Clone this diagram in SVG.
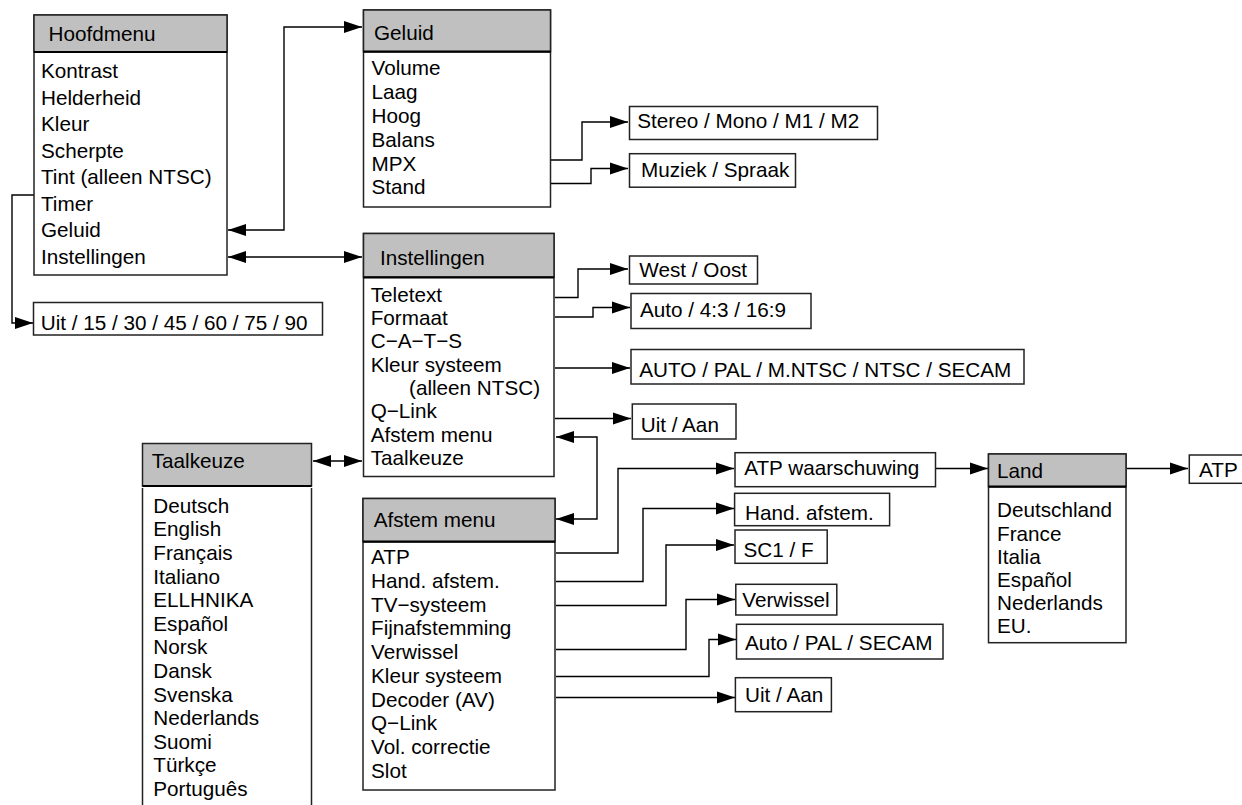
<svg xmlns="http://www.w3.org/2000/svg" width="1242" height="805" viewBox="0 0 1242 805">
<style>
text{font-family:"Liberation Sans",Arial,sans-serif;font-size:20.7px;fill:#000}
.box{fill:#fff;stroke:#222;stroke-width:1.5}
.hdr{fill:#c0c0c0;stroke:#222;stroke-width:1.5}
.sep{stroke:#000;stroke-width:2.2}
.side{stroke:#222;stroke-width:1.5;fill:none}
.c{fill:none;stroke:#000;stroke-width:1.4}
.a{marker-end:url(#ah)}
.b{marker-start:url(#ah);marker-end:url(#ah)}
</style>
<defs>
<marker id="ah" markerUnits="userSpaceOnUse" markerWidth="19" markerHeight="13" refX="18" refY="6.5" orient="auto-start-reverse">
<path d="M0,0.5 L18,6.5 L0,12.5 z" fill="#000"/>
</marker>
</defs>
<rect width="1242" height="805" fill="#fff"/>

<g id="connectors">
<path class="c a" d="M34,195 H12 V323 H33"/>
<path class="c b" d="M228,230 H284 V27 H362"/>
<path class="c b" d="M228,257 H362"/>
<path class="c a" d="M551,160 H582 V122 H628"/>
<path class="c a" d="M551,183.5 H591 V168.5 H628"/>
<path class="c a" d="M555,297.5 H578 V269 H628"/>
<path class="c a" d="M555,317 H593 V307.5 H630"/>
<path class="c a" d="M555,368 H630"/>
<path class="c a" d="M555,418.5 H631"/>
<path class="c b" d="M556,437 H597 V519 H556"/>
<path class="c b" d="M313,461 H362"/>
<path class="c a" d="M556,553 H618 V468.5 H734"/>
<path class="c a" d="M556,581.5 H643 V508.5 H734"/>
<path class="c a" d="M556,605.5 H666 V545 H734"/>
<path class="c a" d="M556,649.5 H686 V599.5 H735"/>
<path class="c a" d="M556,676.5 H709 V639.5 H736"/>
<path class="c a" d="M556,697.5 H735"/>
<path class="c a" d="M936,468.5 H988"/>
<path class="c a" d="M1127,468.5 H1188"/>
</g>

<g id="hoofdmenu">
<rect class="box" x="34" y="15" width="193" height="260"/>
<rect class="hdr" x="34" y="15" width="193" height="37"/>
<line class="sep" x1="34" y1="52" x2="227" y2="52"/>
<text x="48.5" y="40.7">Hoofdmenu</text>
<text x="41" y="78.3">Kontrast</text>
<text x="41" y="104.8">Helderheid</text>
<text x="41" y="131.3">Kleur</text>
<text x="41" y="157.8">Scherpte</text>
<text x="41" y="184.3">Tint (alleen NTSC)</text>
<text x="41" y="210.8">Timer</text>
<text x="41" y="237.3">Geluid</text>
<text x="41" y="263.8">Instellingen</text>
</g>

<g id="timer-opts">
<rect class="box" x="33.5" y="302.5" width="289" height="32.5"/>
<text x="40.7" y="330">Uit / 15 / 30 / 45 / 60 / 75 / 90</text>
</g>

<g id="geluid">
<rect class="box" x="363.5" y="10" width="187" height="197"/>
<rect class="hdr" x="363.5" y="10" width="187" height="41.7"/>
<line class="sep" x1="363.5" y1="51.7" x2="550.5" y2="51.7"/>
<text x="374" y="40">Geluid</text>
<text x="371.5" y="75">Volume</text>
<text x="371.5" y="98.9">Laag</text>
<text x="371.5" y="122.7">Hoog</text>
<text x="371.5" y="146.6">Balans</text>
<text x="371.5" y="170.5">MPX</text>
<text x="371.5" y="194.3">Stand</text>
</g>

<g id="stereo">
<rect class="box" x="629.5" y="106.5" width="248" height="33"/>
<text x="637.3" y="128.3">Stereo / Mono / M1 / M2</text>
</g>
<g id="muziek">
<rect class="box" x="629.5" y="153.7" width="166" height="33.5"/>
<text x="641" y="176.7">Muziek / Spraak</text>
</g>

<g id="instellingen">
<rect class="box" x="363.5" y="233.5" width="190.5" height="243"/>
<rect class="hdr" x="363.5" y="233.5" width="190.5" height="43.8"/>
<line class="sep" x1="363.5" y1="277.3" x2="554" y2="277.3"/>
<text x="380" y="265">Instellingen</text>
<text x="370.7" y="301.7">Teletext</text>
<text x="370.7" y="325">Formaat</text>
<text x="370.7" y="348.3">C−A−T−S</text>
<text x="370.7" y="371.7">Kleur systeem</text>
<text x="409" y="395">(alleen NTSC)</text>
<text x="370.7" y="418.3">Q−Link</text>
<text x="370.7" y="441.7">Afstem menu</text>
<text x="370.7" y="465">Taalkeuze</text>
</g>

<g id="westoost">
<rect class="box" x="629.5" y="256" width="128" height="28"/>
<text x="639.3" y="276.7">West / Oost</text>
</g>
<g id="formaat-opts">
<rect class="box" x="631" y="293.5" width="180" height="35"/>
<text x="640" y="316.7">Auto / 4:3 / 16:9</text>
</g>
<g id="kleur-opts">
<rect class="box" x="631" y="349.5" width="393" height="34.5"/>
<text x="639.3" y="376.7">AUTO / PAL / M.NTSC / NTSC / SECAM</text>
</g>
<g id="qlink-opts">
<rect class="box" x="632.3" y="404" width="103.7" height="35"/>
<text x="640.7" y="432.3">Uit / Aan</text>
</g>

<g id="taalkeuze">
<rect class="hdr" x="142.5" y="443.5" width="169" height="42.5"/>
<line class="sep" x1="142.5" y1="486" x2="311.5" y2="486"/>
<path class="side" d="M142.5,488 V805 M311.5,488 V805"/>
<text x="151.7" y="468">Taalkeuze</text>
<text x="153.3" y="512.7">Deutsch</text>
<text x="153.3" y="536.3">English</text>
<text x="153.3" y="559.9">Français</text>
<text x="153.3" y="583.5">Italiano</text>
<text x="153.3" y="607.1">ELLHNIKA</text>
<text x="153.3" y="630.7">Español</text>
<text x="153.3" y="654.3">Norsk</text>
<text x="153.3" y="677.9">Dansk</text>
<text x="153.3" y="701.5">Svenska</text>
<text x="153.3" y="725.1">Nederlands</text>
<text x="153.3" y="748.7">Suomi</text>
<text x="153.3" y="772.3">Türkçe</text>
<text x="153.3" y="795.9">Português</text>
</g>

<g id="afstemmenu">
<rect class="box" x="363" y="498.5" width="192" height="291.5"/>
<rect class="hdr" x="363" y="498.5" width="192" height="43.2"/>
<line class="sep" x1="363" y1="541.7" x2="555" y2="541.7"/>
<text x="373.7" y="527.3">Afstem menu</text>
<text x="371" y="564.3">ATP</text>
<text x="371" y="588">Hand. afstem.</text>
<text x="371" y="611.7">TV−systeem</text>
<text x="371" y="635.4">Fijnafstemming</text>
<text x="371" y="659.1">Verwissel</text>
<text x="371" y="682.8">Kleur systeem</text>
<text x="371" y="706.5">Decoder (AV)</text>
<text x="371" y="730.2">Q−Link</text>
<text x="371" y="753.9">Vol. correctie</text>
<text x="371" y="777.6">Slot</text>
</g>

<g id="atpwaarschuwing">
<rect class="box" x="735" y="452.7" width="200.5" height="34"/>
<text x="744.2" y="475">ATP waarschuwing</text>
</g>
<g id="handafstem">
<rect class="box" x="734.6" y="493.3" width="155" height="32.4"/>
<text x="745" y="520">Hand. afstem.</text>
</g>
<g id="sc1f">
<rect class="box" x="735" y="530" width="92.2" height="33.3"/>
<text x="743.4" y="556.7">SC1 / F</text>
</g>
<g id="verwissel">
<rect class="box" x="735.8" y="584.3" width="101" height="30.7"/>
<text x="742.3" y="606.7">Verwissel</text>
</g>
<g id="autopalsecam">
<rect class="box" x="736.5" y="624.3" width="206.5" height="34.7"/>
<text x="745" y="650">Auto / PAL / SECAM</text>
</g>
<g id="decoder-opts">
<rect class="box" x="735.4" y="677.7" width="96" height="34"/>
<text x="745" y="702.3">Uit / Aan</text>
</g>

<g id="land">
<rect class="box" x="988.5" y="454" width="137.5" height="188.7"/>
<rect class="hdr" x="988.5" y="454" width="137.5" height="32.7"/>
<line class="sep" x1="988.5" y1="486.7" x2="1126" y2="486.7"/>
<text x="997" y="478.3">Land</text>
<text x="997" y="517.3">Deutschland</text>
<text x="997" y="540.5">France</text>
<text x="997" y="563.7">Italia</text>
<text x="997" y="586.9">Español</text>
<text x="997" y="610.1">Nederlands</text>
<text x="997" y="633.3">EU.</text>
</g>

<g id="atp">
<rect class="box" x="1189.3" y="455" width="60" height="28.3"/>
<text x="1199" y="476.7">ATP</text>
</g>
</svg>
